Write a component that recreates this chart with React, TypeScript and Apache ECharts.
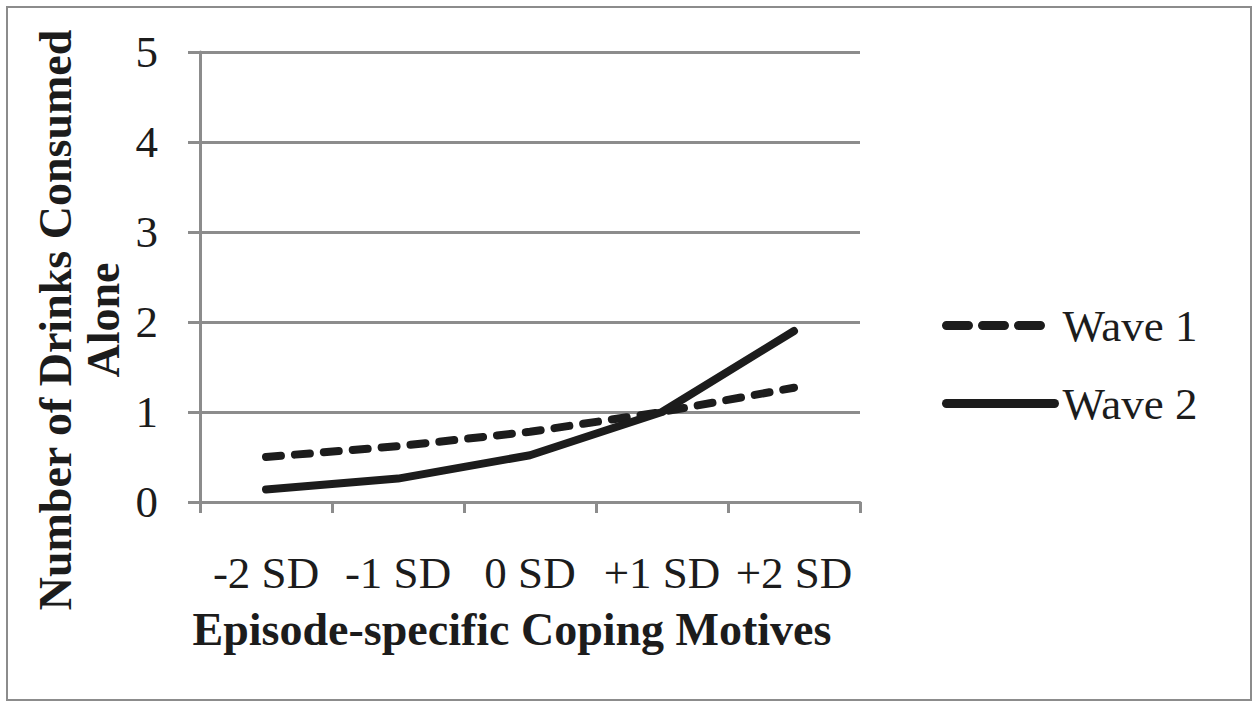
import React, { useEffect, useRef } from "react";
import * as echarts from "echarts";

const categories = ["-2 SD", "-1 SD", "0 SD", "+1 SD", "+2 SD"];
const wave1 = [0.5, 0.62, 0.78, 1.0, 1.27];
const wave2 = [0.14, 0.26, 0.52, 1.0, 1.9];
const yTicks = [0, 1, 2, 3, 4, 5];
const seriesNames = ["Wave 1", "Wave 2"];
const xTitle = "Episode-specific Coping Motives";
const yTitle = "Number of Drinks Consumed\nAlone";

const FONT = "'Liberation Serif', 'Times New Roman', serif";
const GRAY = "#8c8c8c";
const INK = "#1c1c1c";

export default function App() {
  const ref = useRef<HTMLDivElement>(null);
  useEffect(() => {
    if (!ref.current) return;
    const chart = echarts.init(ref.current, undefined, { renderer: "svg" });
    chart.setOption({
      animation: false,
      backgroundColor: "#ffffff",
      grid: { left: 200, right: 400, top: 52, bottom: 205, containLabel: false },
      xAxis: {
        type: "category",
        data: categories,
        boundaryGap: true,
        axisLine: { lineStyle: { color: GRAY, width: 3 } },
        axisTick: { show: true, length: 11, lineStyle: { color: GRAY, width: 3 } },
        axisLabel: { fontFamily: FONT, fontSize: 45, color: INK, margin: 48, interval: 0 },
        splitLine: { show: false },
      },
      yAxis: {
        type: "value",
        min: yTicks[0],
        max: yTicks[yTicks.length - 1],
        interval: 1,
        axisLine: { show: true, lineStyle: { color: GRAY, width: 3 } },
        axisTick: { show: true, length: 12, lineStyle: { color: GRAY, width: 3 } },
        axisLabel: { fontFamily: FONT, fontSize: 45, color: INK, margin: 42 },
        splitLine: { show: true, lineStyle: { color: GRAY, width: 3 } },
      },
      legend: {
        orient: "vertical",
        left: 937,
        top: 298,
        itemWidth: 108,
        itemHeight: 14,
        itemGap: 33,
        textStyle: { fontFamily: FONT, fontSize: 45, color: INK, padding: [0, 0, 0, 3] },
        itemStyle: { opacity: 0 },
        lineStyle: { width: 9, color: INK, cap: "round" },
        data: [
          { name: seriesNames[0], lineStyle: { type: [22, 14], width: 9, cap: "round" } },
          { name: seriesNames[1], lineStyle: { type: "solid", width: 9, cap: "round" } },
        ],
      },
      series: [
        {
          name: seriesNames[0],
          type: "line",
          data: wave1,
          symbol: "none",
          lineStyle: { color: INK, width: 8, type: [15, 14], cap: "round", join: "round" },
          itemStyle: { color: INK },
        },
        {
          name: seriesNames[1],
          type: "line",
          data: wave2,
          symbol: "none",
          lineStyle: { color: INK, width: 8, type: "solid", cap: "round", join: "round" },
          itemStyle: { color: INK },
        },
      ],
      graphic: [
        {
          type: "rect",
          shape: { x: 7, y: 7, width: 1244, height: 693 },
          style: { fill: "none", stroke: GRAY, lineWidth: 2 },
          silent: true,
        },
        {
          type: "text",
          x: 79,
          y: 320,
          rotation: Math.PI / 2,
          style: {
            text: yTitle,
            fontFamily: FONT,
            fontSize: 46,
            fontWeight: "bold",
            fill: INK,
            align: "center",
            verticalAlign: "middle",
            lineHeight: 48,
          },
        },
        {
          type: "text",
          x: 512,
          y: 629,
          style: {
            text: xTitle,
            fontFamily: FONT,
            fontSize: 46,
            fontWeight: "bold",
            fill: INK,
            align: "center",
            verticalAlign: "middle",
          },
        },
      ],
    });
    return () => chart.dispose();
  }, []);
  return (
    <div
      ref={ref}
      style={{ position: "fixed", left: 0, top: 0, width: 1260, height: 707, background: "#fff" }}
    />
  );
}
